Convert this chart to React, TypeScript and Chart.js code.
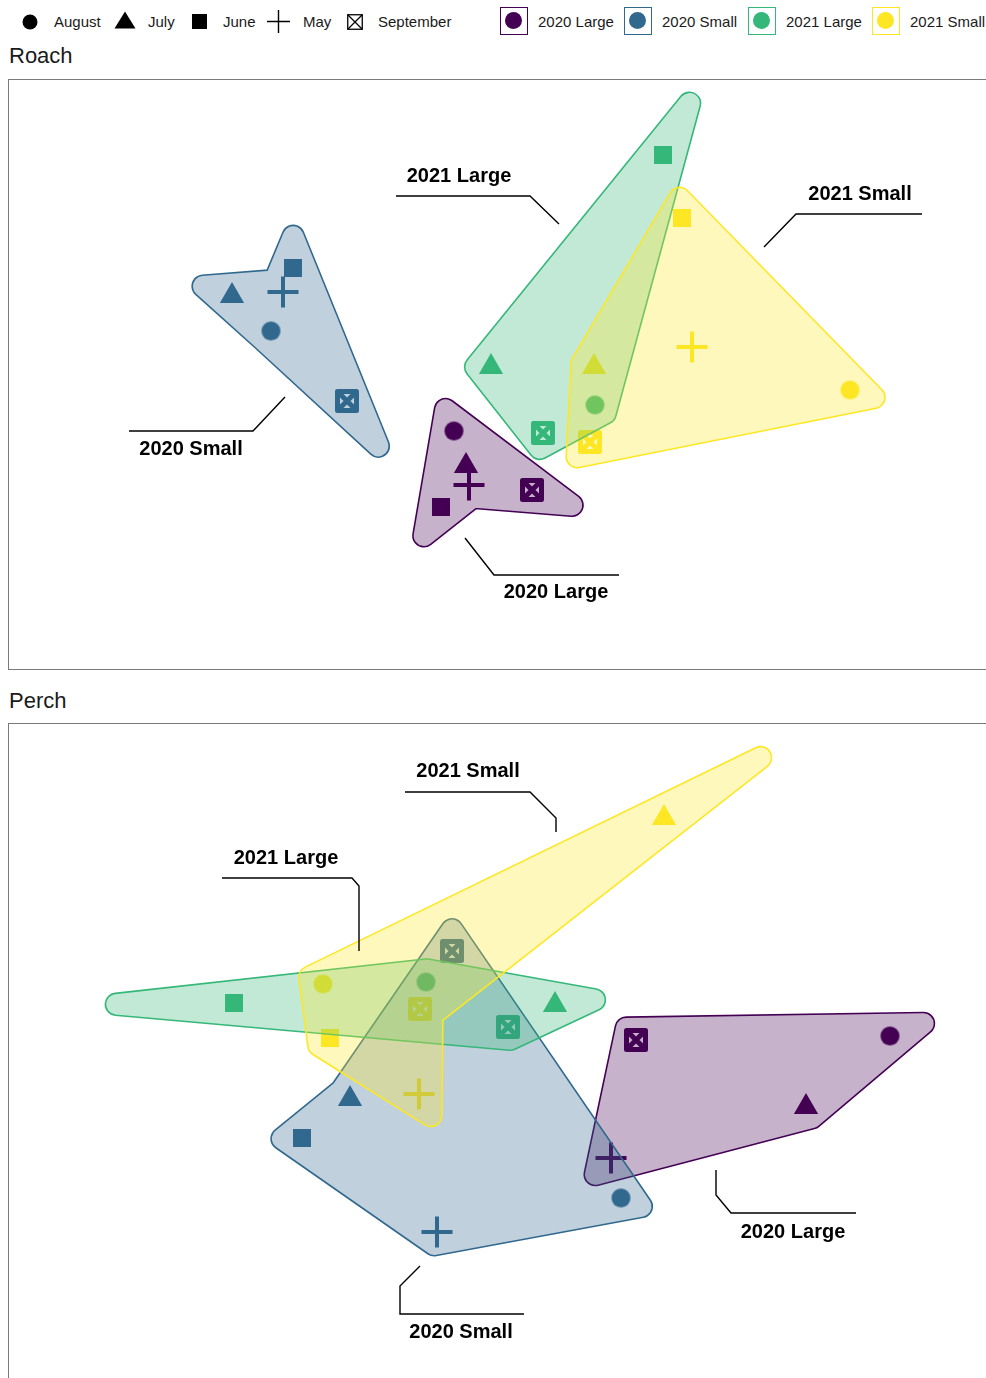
import React, { useEffect, useRef } from 'react';
import { Chart, registerables } from 'chart.js';

Chart.register(...registerables);

const months = ['May', 'June', 'July', 'August', 'September'];
const legendMonthOrder = [3, 2, 1, 0, 4];
const groups = ['2020 Large', '2020 Small', '2021 Large', '2021 Small'];
const groupColors = ['#440154', '#31688E', '#35B779', '#FDE725'];

// Roach NMDS scores, one value per month (May ... September); null = not sampled
const roach2020LargeX = [-0.175, -0.315, -0.19, -0.25, 0.14];
const roach2020LargeY = [-0.555, -0.665, -0.46, -0.285, -0.58];
const roach2020SmallX = [-1.105, -1.055, -1.36, -1.165, -0.785];
const roach2020SmallY = [0.41, 0.53, 0.39, 0.215, -0.135];
const roach2021LargeX = [null, 0.795, -0.065, 0.455, 0.195];
const roach2021LargeY = [null, 1.095, 0.035, -0.155, -0.295];
const roach2021SmallX = [0.94, 0.89, 0.45, 1.73, 0.43];
const roach2021SmallY = [0.135, 0.78, 0.035, -0.08, -0.34];

// Perch NMDS scores
const perch2020LargeX = [0.535, null, 1.51, 1.93, 0.66];
const perch2020LargeY = [-0.52, null, -0.265, 0.09, 0.07];
const perch2020SmallX = [-0.335, -1.01, -0.77, 0.585, -0.26];
const perch2020SmallY = [-0.89, -0.42, -0.225, -0.72, 0.515];
const perch2021LargeX = [null, -1.35, 0.255, -0.39, 0.02];
const perch2021LargeY = [null, 0.255, 0.245, 0.36, 0.135];
const perch2021SmallX = [-0.425, -0.87, 0.8, -0.905, -0.42];
const perch2021SmallY = [-0.2, 0.08, 1.18, 0.35, 0.225];

// hull vertex order (month indices) per group
const roachHullOrder = [[3, 4, 0, 1], [1, 4, 3, 2, 0], [1, 3, 4, 2], [1, 3, 4, 2]];
const perchHullOrder = [[4, 3, 2, 0], [4, 3, 0, 1, 2], [1, 3, 2, 4], [2, 4, 0, 1, 3]];

// label layout (data units)
const roachLabelAt = [[0.26, -1.09], [-1.565, -0.375], [-0.225, 0.99], [1.78, 0.9]];
const roachLeaders = [
  [[-0.195, -0.82], [-0.05, -1.005], [0.575, -1.005]],
  [[-1.875, -0.285], [-1.255, -0.285], [-1.095, -0.115]],
  [[-0.54, 0.89], [0.13, 0.89], [0.275, 0.75]],
  [[2.09, 0.8], [1.46, 0.8], [1.3, 0.635]],
];
const perchLabelAt = [[1.445, -0.89], [-0.215, -1.39], [-1.09, 0.98], [-0.18, 1.415]];
const perchLeaders = [
  [[1.06, -0.58], [1.06, -0.705], [1.135, -0.795], [1.76, -0.795]],
  [[-0.42, -1.06], [-0.52, -1.16], [-0.52, -1.3], [0.1, -1.3]],
  [[-1.41, 0.88], [-0.76, 0.88], [-0.725, 0.84], [-0.725, 0.515]],
  [[-0.495, 1.31], [0.13, 1.31], [0.26, 1.18], [0.26, 1.11]],
];

const FONT = '"Liberation Sans", Arial, Helvetica, sans-serif';
const EXPAND = 23;
const RADIUS = 11;
const FILL_ALPHA = 0.3;

function makeMarker(month: number, color: string) {
  const c = document.createElement('canvas');
  const sizes = [34, 20, 30, 21, 24];
  const S = sizes[month];
  c.width = S;
  c.height = S;
  const g = c.getContext('2d')!;
  g.fillStyle = color;
  g.strokeStyle = color;
  if (month === 0) {
    g.lineWidth = 4;
    g.beginPath();
    g.moveTo(S / 2 - 15.5, S / 2);
    g.lineTo(S / 2 + 15.5, S / 2);
    g.moveTo(S / 2, S / 2 - 15.5);
    g.lineTo(S / 2, S / 2 + 15.5);
    g.stroke();
  } else if (month === 1) {
    g.fillRect(1, 1, 18, 18);
  } else if (month === 2) {
    const r = 14;
    const cx = S / 2;
    const cy = S / 2;
    const hw = (r * Math.sqrt(3)) / 2;
    g.beginPath();
    g.moveTo(cx, cy - r);
    g.lineTo(cx + hw, cy + r / 2);
    g.lineTo(cx - hw, cy + r / 2);
    g.closePath();
    g.fill();
  } else if (month === 3) {
    g.beginPath();
    g.arc(S / 2, S / 2, 9.5, 0, Math.PI * 2);
    g.fill();
  } else {
    g.lineWidth = 5;
    g.lineJoin = 'round';
    g.strokeRect(2.5, 2.5, S - 5, S - 5);
    g.lineCap = 'butt';
    g.beginPath();
    g.moveTo(3, 3);
    g.lineTo(S - 3, S - 3);
    g.moveTo(S - 3, 3);
    g.lineTo(3, S - 3);
    g.stroke();
  }
  return c;
}

function offsetPolygon(pts: { x: number; y: number }[], d: number) {
  const n = pts.length;
  let area = 0;
  for (let i = 0; i < n; i++) {
    const j = (i + 1) % n;
    area += pts[i].x * pts[j].y - pts[j].x * pts[i].y;
  }
  const s = area > 0 ? 1 : -1;
  const normals = pts.map((p, i) => {
    const q = pts[(i + 1) % n];
    const dx = q.x - p.x;
    const dy = q.y - p.y;
    const len = Math.hypot(dx, dy) || 1;
    return { x: (s * dy) / len, y: (-s * dx) / len };
  });
  return pts.map((p, i) => {
    const n1 = normals[(i - 1 + n) % n];
    const n2 = normals[i];
    let k = 1 + n1.x * n2.x + n1.y * n2.y;
    if (k < 0.02) k = 0.02;
    return { x: p.x + (d * (n1.x + n2.x)) / k, y: p.y + (d * (n1.y + n2.y)) / k };
  });
}

function drawShape(g: CanvasRenderingContext2D, Q: { x: number; y: number }[], r: number, color: string) {
  g.beginPath();
  Q.forEach((p, i) => (i === 0 ? g.moveTo(p.x, p.y) : g.lineTo(p.x, p.y)));
  g.closePath();
  g.fillStyle = color;
  g.strokeStyle = color;
  g.fill();
  g.lineJoin = 'round';
  g.lineWidth = 2 * r;
  g.stroke();
}

const hullPlugin = {
  id: 'hulls',
  afterDatasetsDraw(chart: any, _args: any, opts: any) {
    const { ctx } = chart;
    const xs = chart.scales.x;
    const ys = chart.scales.y;
    const off = document.createElement('canvas');
    off.width = chart.canvas.width;
    off.height = chart.canvas.height;
    const o = off.getContext('2d')!;
    ctx.save();
    ctx.setTransform(1, 0, 0, 1, 0, 0);
    chart.data.datasets.forEach((ds: any, gi: number) => {
      const order: number[] = opts.orders[gi];
      const pts = order.map((m) => {
        const p = ds.data.find((d: any) => d.m === m);
        return { x: xs.getPixelForValue(p.x), y: ys.getPixelForValue(p.y) };
      });
      const Q = offsetPolygon(pts, EXPAND - RADIUS);
      const color = opts.colors[gi];
      o.clearRect(0, 0, off.width, off.height);
      drawShape(o, Q, RADIUS, color);
      ctx.globalAlpha = FILL_ALPHA;
      ctx.drawImage(off, 0, 0);
      ctx.globalAlpha = 1;
      o.clearRect(0, 0, off.width, off.height);
      drawShape(o, Q, RADIUS + 0.8, color);
      o.globalCompositeOperation = 'destination-out';
      drawShape(o, Q, RADIUS - 0.8, '#000');
      o.globalCompositeOperation = 'source-over';
      ctx.drawImage(off, 0, 0);
    });
    ctx.restore();
  },
};

const labelPlugin = {
  id: 'groupLabels',
  afterDraw(chart: any, _args: any, opts: any) {
    const { ctx } = chart;
    const xs = chart.scales.x;
    const ys = chart.scales.y;
    ctx.save();
    opts.leaders.forEach((path: number[][], gi: number) => {
      ctx.beginPath();
      path.forEach((p, i) => {
        const px = xs.getPixelForValue(p[0]);
        const py = ys.getPixelForValue(p[1]);
        if (i === 0) ctx.moveTo(px, py);
        else ctx.lineTo(px, py);
      });
      ctx.strokeStyle = '#000';
      ctx.lineWidth = 1.4;
      ctx.lineJoin = 'miter';
      ctx.stroke();
      const at = opts.at[gi];
      ctx.fillStyle = '#000';
      ctx.font = `bold 20px ${FONT}`;
      ctx.textAlign = 'center';
      ctx.textBaseline = 'middle';
      ctx.fillText(opts.names[gi], xs.getPixelForValue(at[0]), ys.getPixelForValue(at[1]));
    });
    ctx.restore();
  },
};

type PanelProps = {
  top: number;
  height: number;
  xs: (number | null)[][];
  ys: (number | null)[][];
  orders: number[][];
  labelAt: number[][];
  leaders: number[][][];
  yMin: number;
  yMax: number;
};

function Panel(props: PanelProps) {
  const ref = useRef<HTMLCanvasElement | null>(null);
  useEffect(() => {
    const markers = groupColors.map((c) => months.map((_, m) => makeMarker(m, c)));
    const datasets = groups.map((name, gi) => ({
      label: name,
      data: months
        .map((_, m) =>
          props.xs[gi][m] == null ? null : { x: props.xs[gi][m] as number, y: props.ys[gi][m] as number, m }
        )
        .filter((d) => d !== null),
      pointStyle: (c: any) => markers[gi][c.raw ? c.raw.m : 3],
      pointRadius: 10,
      backgroundColor: groupColors[gi],
      borderColor: groupColors[gi],
      showLine: false,
      clip: false,
    }));
    const chart = new Chart(ref.current!, {
      type: 'scatter',
      data: { datasets } as any,
      options: {
        animation: false,
        responsive: false,
        devicePixelRatio: 1,
        events: [],
        layout: { padding: 0, autoPadding: false },
        scales: {
          x: { type: 'linear', min: -2.475, max: 2.475, display: false },
          y: { type: 'linear', min: props.yMin, max: props.yMax, display: false },
        },
        plugins: {
          legend: { display: false },
          tooltip: { enabled: false },
          hulls: { orders: props.orders, colors: groupColors },
          groupLabels: { at: props.labelAt, leaders: props.leaders, names: groups },
        } as any,
      },
      plugins: [hullPlugin, labelPlugin],
    });
    return () => chart.destroy();
  }, []);
  return (
    <div
      style={{
        position: 'absolute',
        left: 8,
        top: props.top,
        width: 990,
        height: props.height,
        border: '1px solid #7a7a7a',
      }}
    >
      <canvas ref={ref} width={990} height={props.height} style={{ display: 'block', width: 990, height: props.height }} />
    </div>
  );
}

function ShapeIcon({ m }: { m: number }) {
  if (m === 3)
    return (
      <svg width={16} height={16} style={{ position: 'absolute', left: 22, top: 14 }}>
        <circle cx={8} cy={8} r={7.5} fill="#000" />
      </svg>
    );
  if (m === 2)
    return (
      <svg width={22} height={18} style={{ position: 'absolute', left: 114, top: 11 }}>
        <polygon points="11,0.5 21.5,17.5 0.5,17.5" fill="#000" />
      </svg>
    );
  if (m === 1)
    return (
      <svg width={15} height={15} style={{ position: 'absolute', left: 192, top: 14 }}>
        <rect x={0} y={0} width={15} height={15} fill="#000" />
      </svg>
    );
  if (m === 0)
    return (
      <svg width={23} height={23} style={{ position: 'absolute', left: 267, top: 10 }}>
        <path d="M0 11.5 H23 M11.5 0 V23" stroke="#000" strokeWidth={1.4} />
      </svg>
    );
  return (
    <svg width={16} height={16} style={{ position: 'absolute', left: 347, top: 14 }}>
      <rect x={0.75} y={0.75} width={14.5} height={14.5} fill="none" stroke="#000" strokeWidth={1.3} />
      <path d="M0.75 0.75 L15.25 15.25 M15.25 0.75 L0.75 15.25" stroke="#000" strokeWidth={1.3} />
    </svg>
  );
}

const shapeTextLeft = [303, 223, 148, 54, 378];
const colorBoxLeft = [500, 624, 748, 872];

export default function App() {
  const textStyle: React.CSSProperties = {
    position: 'absolute',
    fontFamily: FONT,
    fontSize: 15,
    lineHeight: '20px',
    color: '#1a1a1a',
    whiteSpace: 'nowrap',
    top: 12,
  };
  return (
    <div
      style={{
        position: 'absolute',
        left: 0,
        top: 0,
        width: 986,
        height: 1378,
        overflow: 'hidden',
        background: '#fff',
      }}
    >
      {legendMonthOrder.map((m) => (
        <React.Fragment key={m}>
          <ShapeIcon m={m} />
          <span style={{ ...textStyle, left: shapeTextLeft[m] }}>{months[m]}</span>
        </React.Fragment>
      ))}
      {groups.map((g, gi) => (
        <React.Fragment key={g}>
          <div
            style={{
              position: 'absolute',
              left: colorBoxLeft[gi],
              top: 7,
              width: 28,
              height: 28,
              boxSizing: 'border-box',
              border: `1.5px solid ${groupColors[gi]}`,
            }}
          >
            <div
              style={{
                position: 'absolute',
                left: 4,
                top: 4,
                width: 17,
                height: 17,
                borderRadius: '50%',
                background: groupColors[gi],
              }}
            />
          </div>
          <span style={{ ...textStyle, left: colorBoxLeft[gi] + 38 }}>{g}</span>
        </React.Fragment>
      ))}
      <div style={{ position: 'absolute', left: 9, top: 43, fontFamily: FONT, fontSize: 22, lineHeight: '26px', color: '#1a1a1a' }}>
        Roach
      </div>
      <Panel
        top={79}
        height={589}
        xs={[roach2020LargeX, roach2020SmallX, roach2021LargeX, roach2021SmallX]}
        ys={[roach2020LargeY, roach2020SmallY, roach2021LargeY, roach2021SmallY]}
        orders={roachHullOrder}
        labelAt={roachLabelAt}
        leaders={roachLeaders}
        yMin={-1.475}
        yMax={1.47}
      />
      <div style={{ position: 'absolute', left: 9, top: 688, fontFamily: FONT, fontSize: 22, lineHeight: '26px', color: '#1a1a1a' }}>
        Perch
      </div>
      <Panel
        top={723}
        height={660}
        xs={[perch2020LargeX, perch2020SmallX, perch2021LargeX, perch2021SmallX]}
        ys={[perch2020LargeY, perch2020SmallY, perch2021LargeY, perch2021SmallY]}
        orders={perchHullOrder}
        labelAt={perchLabelAt}
        leaders={perchLeaders}
        yMin={-1.65}
        yMax={1.65}
      />
    </div>
  );
}
